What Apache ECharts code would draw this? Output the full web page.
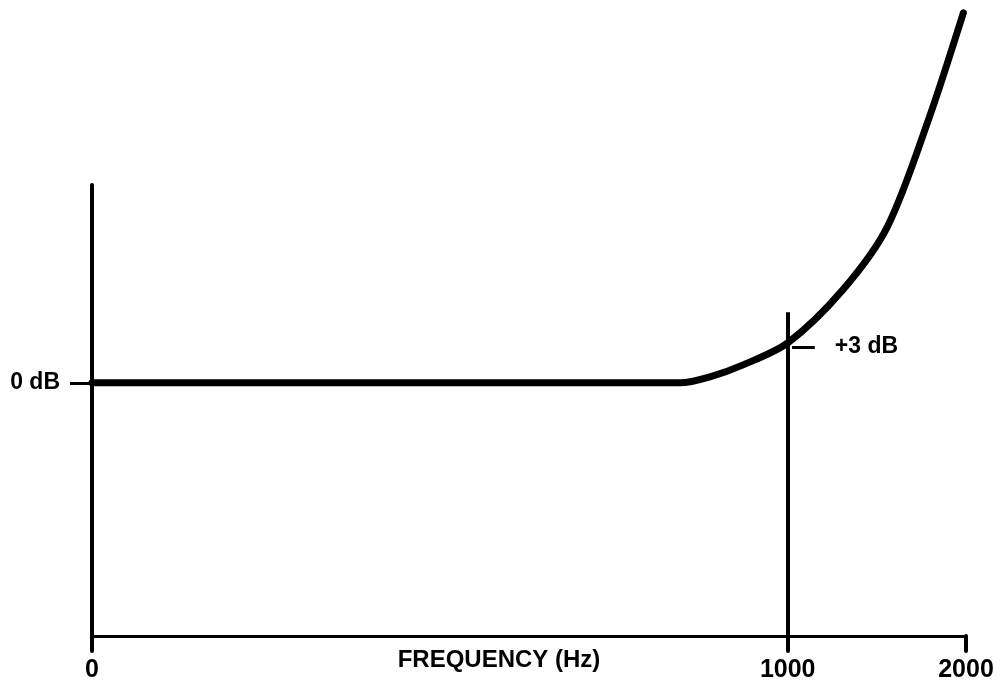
<!DOCTYPE html>
<html>
<head>
<meta charset="utf-8">
<style>
  html, body { margin: 0; padding: 0; background: #fff; }
  #chart { width: 1002px; height: 690px; }
</style>
<script src="https://cdn.jsdelivr.net/npm/echarts@6/dist/echarts.min.js"></script>
</head>
<body>
<div id="chart"></div>
<script>
// x is drawn on a schematic scale (0..100 = left..right of the axis),
// the frequency labels sit at these positions
const xTickPos = [0, 79.6, 100]
const xTickLabels = ['0', '1000', '2000']

// response curve, y in dB
const curveX = [0, 67.3, 70.7, 74.5, 79.6, 85.9, 91.0, 95.7, 99.7]
const curveY = [0, 0, 0.45, 1.35, 3.0, 6.98, 11.71, 19.74, 27.78]

const cutoffX = 79.6   // 1000 Hz marker
const cutoffTop = 5.3
const markDb = 3       // +3 dB point

const font = 'Liberation Sans, Arial, sans-serif'

const chart = echarts.init(document.getElementById('chart'))

chart.setOption({
  backgroundColor: '#fff',
  animation: false,
  grid: {
    left: 92,
    right: 36,
    top: 185,
    bottom: 54,
    outerBoundsMode: 'none',
    containLabel: false
  },
  xAxis: {
    type: 'value',
    min: 0,
    max: 100,
    name: 'FREQUENCY (Hz)',
    nameLocation: 'middle',
    nameGap: 12,
    nameMoveOverlap: false,
    nameTextStyle: {
      color: '#000',
      fontFamily: font,
      fontWeight: 'bold',
      fontSize: 24,
      verticalAlign: 'top',
      padding: [0, 60, 0, 0]
    },
    axisLine: { onZero: false, lineStyle: { color: '#000', width: 3 } },
    axisTick: {
      customValues: xTickPos,
      length: 15,
      lineStyle: { color: '#000', width: 4, cap: 'round' }
    },
    axisLabel: {
      customValues: xTickPos,
      margin: 22,
      color: '#000',
      fontFamily: font,
      fontWeight: 'bold',
      fontSize: 25,
      formatter: v => xTickLabels[xTickPos.indexOf(v)]
    },
    splitLine: { show: false }
  },
  yAxis: {
    type: 'value',
    min: -19,
    max: 14.85,
    axisLine: { show: true, onZero: false, lineStyle: { color: '#000', width: 4 } },
    axisTick: {
      show: true,
      customValues: [0],
      length: 22,
      lineStyle: { color: '#000', width: 3 }
    },
    axisLabel: {
      customValues: [0],
      margin: 32,
      color: '#000',
      fontFamily: font,
      fontWeight: 'bold',
      fontSize: 23,
      formatter: v => v + ' dB'
    },
    splitLine: { show: false }
  },
  series: [{
    type: 'line',
    data: curveX.map((x, i) => [x, curveY[i]]),
    smooth: 0.3,
    clip: false,
    symbol: 'none',
    lineStyle: { color: '#000', width: 7, cap: 'round' },
    markLine: {
      silent: true,
      symbol: 'none',
      data: [
        [
          { coord: [cutoffX, -19], lineStyle: { color: '#000', width: 4, type: 'solid' }, label: { show: false } },
          { coord: [cutoffX, cutoffTop] }
        ],
        [
          {
            coord: [80.1, markDb - 0.3],
            lineStyle: { color: '#000', width: 3, type: 'solid' },
            label: {
              show: true,
              position: 'end',
              distance: 20,
              formatter: '+3 dB',
              color: '#000',
              fontFamily: font,
              fontWeight: 'bold',
              fontSize: 23
            }
          },
          { coord: [82.7, markDb - 0.3] }
        ]
      ]
    }
  }]
})
</script>
</body>
</html>
